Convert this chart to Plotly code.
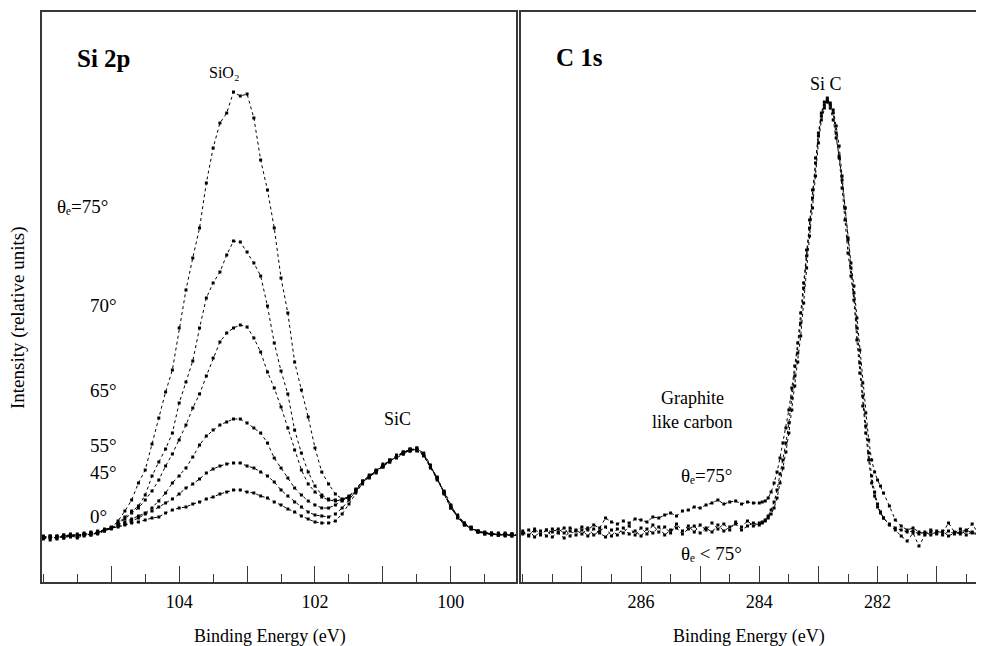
import plotly.graph_objects as go

# ---------------- Si 2p panel data ----------------
energy_si = [106.0, 105.9, 105.8, 105.7, 105.6, 105.5, 105.4, 105.3, 105.2, 105.1,
             105.0, 104.9, 104.8, 104.7, 104.6, 104.5, 104.4, 104.3, 104.2, 104.1,
             104.0, 103.9, 103.8, 103.7, 103.6, 103.5, 103.4, 103.3, 103.2, 103.1,
             103.0, 102.9, 102.8, 102.7, 102.6, 102.5, 102.4, 102.3, 102.2, 102.1,
             102.0, 101.9, 101.8, 101.7, 101.6, 101.5, 101.4, 101.3, 101.2, 101.1,
             101.0, 100.9, 100.8, 100.7, 100.6, 100.5, 100.4, 100.3, 100.2, 100.1,
             100.0, 99.9, 99.8, 99.7, 99.6, 99.5, 99.4, 99.3, 99.2, 99.1, 99.0]

si_75 = [0.01, -0.02, 0.02, 0.00, 0.03, 0.01, 0.04, 0.03, 0.06, 0.07,
         0.10, 0.17, 0.27, 0.38, 0.55, 0.68, 0.94, 1.20, 1.46, 1.68,
         2.10, 2.48, 2.80, 3.10, 3.55, 3.90, 4.15, 4.25, 4.46, 4.42,
         4.44, 4.20, 3.78, 3.48, 3.10, 2.60, 2.25, 1.76, 1.48, 1.21,
         0.90, 0.66, 0.54, 0.44, 0.39, 0.41, 0.47, 0.57, 0.62, 0.67,
         0.72, 0.76, 0.82, 0.85, 0.89, 0.88, 0.83, 0.72, 0.59, 0.46,
         0.32, 0.22, 0.14, 0.10, 0.07, 0.05, 0.04, 0.05, 0.03, 0.04, 0.03]

si_70 = [0.00, 0.02, -0.01, 0.03, 0.01, 0.02, 0.05, 0.03, 0.05, 0.08,
         0.11, 0.15, 0.21, 0.27, 0.32, 0.43, 0.62, 0.76, 0.89, 1.05,
         1.35, 1.56, 1.77, 2.10, 2.40, 2.55, 2.66, 2.83, 2.97, 2.96,
         2.86, 2.75, 2.62, 2.32, 1.95, 1.67, 1.44, 1.08, 0.85, 0.66,
         0.52, 0.43, 0.39, 0.38, 0.38, 0.42, 0.48, 0.55, 0.63, 0.66,
         0.73, 0.77, 0.81, 0.86, 0.88, 0.90, 0.84, 0.70, 0.61, 0.45,
         0.31, 0.23, 0.15, 0.11, 0.06, 0.06, 0.04, 0.03, 0.05, 0.02, 0.03]

si_65 = [0.02, 0.00, 0.01, 0.02, 0.03, 0.00, 0.03, 0.05, 0.04, 0.07,
         0.10, 0.14, 0.19, 0.25, 0.30, 0.38, 0.47, 0.58, 0.72, 0.84,
         0.98, 1.13, 1.30, 1.44, 1.62, 1.80, 1.96, 2.05, 2.10, 2.13,
         2.11, 2.00, 1.86, 1.66, 1.50, 1.31, 1.10, 0.88, 0.68, 0.54,
         0.46, 0.41, 0.38, 0.37, 0.38, 0.40, 0.46, 0.56, 0.61, 0.68,
         0.71, 0.78, 0.80, 0.84, 0.87, 0.89, 0.85, 0.73, 0.58, 0.47,
         0.33, 0.20, 0.14, 0.09, 0.07, 0.04, 0.05, 0.03, 0.04, 0.03, 0.02]

si_55 = [0.01, 0.01, 0.00, 0.03, 0.02, 0.04, 0.02, 0.05, 0.06, 0.08,
         0.09, 0.13, 0.16, 0.19, 0.22, 0.25, 0.30, 0.37, 0.45, 0.55,
         0.62, 0.70, 0.81, 0.93, 1.02, 1.08, 1.13, 1.16, 1.19, 1.19,
         1.15, 1.10, 1.05, 0.95, 0.80, 0.70, 0.60, 0.50, 0.43, 0.37,
         0.33, 0.30, 0.30, 0.33, 0.37, 0.41, 0.49, 0.57, 0.60, 0.67,
         0.74, 0.76, 0.83, 0.85, 0.89, 0.87, 0.82, 0.71, 0.60, 0.44,
         0.30, 0.21, 0.13, 0.10, 0.07, 0.05, 0.03, 0.04, 0.02, 0.04, 0.03]

si_45 = [0.00, 0.02, 0.01, 0.01, 0.04, 0.02, 0.03, 0.06, 0.05, 0.09,
         0.10, 0.12, 0.14, 0.17, 0.20, 0.24, 0.27, 0.31, 0.35, 0.39,
         0.44, 0.50, 0.54, 0.59, 0.65, 0.69, 0.72, 0.74, 0.75, 0.75,
         0.72, 0.70, 0.66, 0.62, 0.56, 0.48, 0.42, 0.36, 0.31, 0.26,
         0.23, 0.22, 0.21, 0.24, 0.30, 0.38, 0.47, 0.54, 0.62, 0.65,
         0.72, 0.78, 0.82, 0.84, 0.88, 0.88, 0.83, 0.71, 0.59, 0.46,
         0.32, 0.22, 0.15, 0.09, 0.06, 0.05, 0.04, 0.03, 0.03, 0.04, 0.02]

si_0 = [-0.01, 0.01, 0.02, 0.00, 0.02, 0.03, 0.04, 0.04, 0.07, 0.08,
        0.10, 0.11, 0.13, 0.15, 0.16, 0.18, 0.20, 0.21, 0.25, 0.28,
        0.30, 0.31, 0.34, 0.36, 0.39, 0.41, 0.44, 0.46, 0.48, 0.48,
        0.46, 0.45, 0.42, 0.40, 0.36, 0.33, 0.29, 0.26, 0.22, 0.19,
        0.16, 0.15, 0.15, 0.17, 0.24, 0.34, 0.45, 0.55, 0.61, 0.67,
        0.71, 0.77, 0.81, 0.86, 0.87, 0.90, 0.84, 0.72, 0.60, 0.45,
        0.30, 0.21, 0.13, 0.10, 0.06, 0.04, 0.05, 0.03, 0.03, 0.02, 0.04]

si_series = [("75°", si_75), ("70°", si_70), ("65°", si_65),
             ("55°", si_55), ("45°", si_45), ("0°", si_0)]

# ---------------- C 1s panel data ----------------
energy_c = [288.0, 287.9, 287.8, 287.7, 287.6, 287.5, 287.4, 287.3, 287.2, 287.1,
            287.0, 286.9, 286.8, 286.7, 286.6, 286.5, 286.4, 286.3, 286.2, 286.1,
            286.0, 285.9, 285.8, 285.7, 285.6, 285.5, 285.4, 285.3, 285.2, 285.1,
            285.0, 284.9, 284.8, 284.7, 284.6, 284.5, 284.4, 284.3, 284.2, 284.1,
            284.0,
            283.95, 283.90, 283.85, 283.80, 283.75, 283.70, 283.65, 283.60, 283.55, 283.50,
            283.45, 283.40, 283.35, 283.30, 283.25, 283.20, 283.15, 283.10, 283.05, 283.00,
            282.95, 282.90, 282.85, 282.80, 282.75, 282.70, 282.65, 282.60, 282.55, 282.50,
            282.45, 282.40, 282.35, 282.30, 282.25, 282.20, 282.15, 282.10, 282.05, 282.00,
            281.95, 281.90,
            281.8, 281.7, 281.6, 281.5, 281.4, 281.3, 281.2, 281.1, 281.0, 280.9,
            280.8, 280.7, 280.6, 280.5, 280.4, 280.3, 280.2]

c_below75_a = [0.04, 0.08, 0.01, 0.07, 0.02, 0.09, 0.05, 0.00, 0.07, 0.03,
               0.08, 0.02, 0.09, 0.05, 0.01, 0.08, 0.03, 0.10, 0.04, 0.07,
               0.02, 0.09, 0.05, 0.11, 0.03, 0.08, 0.10, 0.04, 0.09, 0.12,
               0.05, 0.10, 0.06, 0.13, 0.07, 0.11, 0.14, 0.08, 0.12, 0.15,
               0.13,
               0.15, 0.18, 0.22, 0.28, 0.36, 0.48, 0.64, 0.78, 0.95, 1.15,
               1.40, 1.62, 1.85, 2.15, 2.50, 2.82, 3.10, 3.40, 3.75, 4.02,
               4.22, 4.33, 4.38, 4.35, 4.25, 4.05, 3.80, 3.50, 3.18, 2.85,
               2.62, 2.38, 1.98, 1.65, 1.32, 1.05, 0.78, 0.55, 0.42, 0.31,
               0.25, 0.20,
               0.14, 0.10, 0.08, 0.06, 0.07, 0.04, 0.06, 0.03, 0.07, 0.05,
               0.15, 0.06, 0.04, 0.07, 0.14, 0.05, 0.06]

c_below75_b = [0.07, 0.02, 0.09, 0.03, 0.08, 0.01, 0.06, 0.10, 0.02, 0.08,
               0.04, 0.10, 0.03, 0.07, 0.11, 0.02, 0.09, 0.05, 0.12, 0.03,
               0.10, 0.04, 0.13, 0.06, 0.11, 0.05, 0.14, 0.07, 0.12, 0.06,
               0.13, 0.08, 0.15, 0.09, 0.14, 0.08, 0.16, 0.11, 0.17, 0.12,
               0.15,
               0.16, 0.17, 0.20, 0.24, 0.30, 0.40, 0.55, 0.70, 0.86, 1.05,
               1.28, 1.52, 1.76, 2.02, 2.35, 2.70, 3.02, 3.30, 3.62, 3.95,
               4.18, 4.30, 4.40, 4.33, 4.28, 4.12, 3.92, 3.62, 3.30, 2.98,
               2.70, 2.45, 2.10, 1.75, 1.42, 1.12, 0.85, 0.62, 0.46, 0.34,
               0.26, 0.20,
               0.13, 0.08, 0.02, -0.03, 0.05, -0.08, 0.03, 0.06, 0.04, 0.07,
               0.02, 0.05, 0.09, 0.03, 0.06, 0.04, 0.07]

c_75 = [0.05, 0.03, 0.07, 0.04, 0.08, 0.06, 0.09, 0.05, 0.10, 0.07,
        0.11, 0.08, 0.13, 0.10, 0.20, 0.16, 0.14, 0.17, 0.15, 0.19,
        0.18, 0.16, 0.21, 0.20, 0.23, 0.25, 0.22, 0.27, 0.28, 0.31,
        0.30, 0.33, 0.35, 0.38, 0.34, 0.36, 0.37, 0.34, 0.36, 0.35,
        0.35,
        0.36, 0.37, 0.40, 0.46, 0.55, 0.66, 0.80, 0.95, 1.10, 1.28,
        1.50, 1.72, 1.95, 2.25, 2.55, 2.88, 3.18, 3.48, 3.80, 4.05,
        4.25, 4.36, 4.36, 4.30, 4.18, 4.00, 3.82, 3.58, 3.30, 3.00,
        2.75, 2.52, 2.20, 1.88, 1.55, 1.25, 0.98, 0.78, 0.66, 0.58,
        0.52, 0.45,
        0.32, 0.18, 0.12, 0.08, 0.10, 0.06, 0.04, 0.08, 0.05, 0.03,
        0.07, 0.04, 0.06, 0.08, 0.05, 0.03, 0.06]

c_series = [("θe=75°", c_75), ("θe<75° a", c_below75_a), ("θe<75° b", c_below75_b)]

# labelled ticks (every 2 eV) and unlabelled long ticks (every 1 eV)
si_label_ticks = [104, 102, 100]
si_long_ticks = [105, 104, 103, 102, 101, 100, 99]
c_label_ticks = [286, 284, 282]
c_long_ticks = [287, 286, 285, 284, 283, 282, 281]

SERIF = "Liberation Serif"
INK = "#000000"
FRAME = "#383838"

fig = go.Figure()

for name, vals in si_series:
    fig.add_trace(go.Scatter(
        x=energy_si, y=vals, mode="lines+markers", name=name,
        line=dict(color=INK, width=1, dash="dot"),
        marker=dict(color=INK, size=3, symbol="square"),
        xaxis="x", yaxis="y", showlegend=False))

for name, vals in c_series:
    fig.add_trace(go.Scatter(
        x=energy_c, y=vals, mode="lines+markers", name=name,
        line=dict(color=INK, width=1, dash="dot"),
        marker=dict(color=INK, size=3, symbol="square"),
        xaxis="x2", yaxis="y2", showlegend=False))

# empty helper traces so the overlay tick axes are drawn
fig.add_trace(go.Scatter(x=[], y=[], xaxis="x3", yaxis="y", showlegend=False, hoverinfo="skip"))
fig.add_trace(go.Scatter(x=[], y=[], xaxis="x4", yaxis="y2", showlegend=False, hoverinfo="skip"))

# The page body has an 8 px margin, so the figure is drawn 8 px in from the corner.
OFF = 8
W, H = 984 - OFF, 646 - OFF

def px(xp):
    return (xp - OFF) / W

def py(yp):
    return 1 - (yp - OFF) / H

left_dom = [px(42), px(516)]
right_dom = [px(521), 1.0]
y_dom = [py(582), py(12)]
yrange = [-0.44, 5.26]
si_range = [106.02, 99.04]
c_range = [288.03, 280.2]

xcommon = dict(
    showline=True, linecolor=FRAME, linewidth=1.5, mirror=True,
    ticks="inside", ticklen=16, tickwidth=1.3, tickcolor=FRAME,
    tickmode="array", showgrid=False, zeroline=False,
    tickfont=dict(family=SERIF, size=18, color=INK),
    ticklabelstandoff=3,
    minor=dict(ticks="inside", ticklen=8, tickwidth=1.3, tickcolor=FRAME,
               tickmode="linear", dtick=0.5, tick0=0),
)
overlay = dict(
    showline=False, ticks="inside", ticklen=16, tickwidth=1.3, tickcolor=FRAME,
    tickmode="array", showticklabels=False, showgrid=False, zeroline=False,
    side="bottom",
)

fig.update_layout(
    width=W, height=H,
    margin=dict(l=0, r=0, t=0, b=0),
    paper_bgcolor="white", plot_bgcolor="white",
    xaxis=dict(domain=left_dom, range=si_range, anchor="y",
               tickvals=si_label_ticks, **xcommon),
    xaxis2=dict(domain=right_dom, range=c_range, anchor="y2",
                tickvals=c_label_ticks, **xcommon),
    xaxis3=dict(overlaying="x", range=si_range, anchor="y",
                tickvals=si_long_ticks, **overlay),
    xaxis4=dict(overlaying="x2", range=c_range, anchor="y2",
                tickvals=c_long_ticks, **overlay),
    yaxis=dict(domain=y_dom, range=yrange, anchor="x", showline=True, mirror=True,
               linecolor=FRAME, linewidth=1.5, showticklabels=False, ticks="",
               showgrid=False, zeroline=False),
    yaxis2=dict(domain=y_dom, range=yrange, anchor="x2", showline=True, mirror=False,
                linecolor=FRAME, linewidth=1.5, showticklabels=False, ticks="",
                showgrid=False, zeroline=False),
    font=dict(family=SERIF, color=INK),
)

ann = []
def a(text, x, y, xref="x", yref="y", size=18, xanchor="center", yanchor="middle", **kw):
    ann.append(dict(text=text, x=x, y=y, xref=xref, yref=yref, showarrow=False,
                    xanchor=xanchor, yanchor=yanchor,
                    font=dict(family=SERIF, size=size, color=INK), **kw))

# Si 2p panel
a("<b>Si 2p</b>", 105.54, 4.80, size=25, xanchor="left")
a("SiO₂", 103.59, 4.66, size=16, xanchor="left")
a("θₑ=75°", 105.83, 3.32, size=19, xanchor="left")
a("70°", 105.34, 2.33, size=19, xanchor="left")
a("65°", 105.34, 1.48, size=19, xanchor="left")
a("55°", 105.34, 0.93, size=19, xanchor="left")
a("45°", 105.34, 0.66, size=19, xanchor="left")
a("0°", 105.34, 0.22, size=19, xanchor="left")
a("SiC", 100.78, 1.19, size=18)

# C 1s panel
a("<b>C 1s</b>", 287.48, 4.81, xref="x2", yref="y2", size=25, xanchor="left")
a("Si C", 282.87, 4.54, xref="x2", yref="y2", size=18)
a("Graphite", 285.13, 1.40, xref="x2", yref="y2", size=18)
a("like carbon", 285.13, 1.16, xref="x2", yref="y2", size=18)
a("θₑ=75°", 284.90, 0.63, xref="x2", yref="y2", size=19)
a("θₑ < 75°", 284.81, -0.15, xref="x2", yref="y2", size=19)

# axis titles
a("Binding Energy (eV)", px(270), py(636), xref="paper", yref="paper", size=18)
a("Binding Energy (eV)", px(749), py(636), xref="paper", yref="paper", size=18)
a("Intensity (relative units)", px(18), py(318), xref="paper", yref="paper",
  size=19, textangle=-90)

fig.update_layout(annotations=ann)
fig.write_html("out.html")
